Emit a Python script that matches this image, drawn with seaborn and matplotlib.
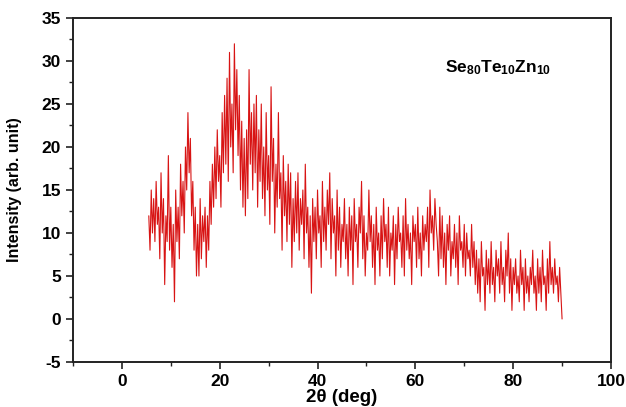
import numpy as np
import pandas as pd
import matplotlib
matplotlib.use("Agg")
import matplotlib.pyplot as plt
import seaborn as sns
from matplotlib.ticker import MultipleLocator

# Intensity readings, 2theta from 5.5 deg in 0.25 deg steps
intensity = [
    12, 8, 15, 10, 14, 9, 16, 11, 13, 7, 17, 10, 14, 4, 12, 9, 19, 8, 13, 6,
    11, 2, 15, 9, 13, 7, 18, 12, 16, 10, 20, 15, 24, 17, 21, 12, 16, 8, 13, 5,
    11, 5, 14, 7, 12, 9, 13, 6, 12, 8, 16, 11, 18, 13, 20, 14, 22, 16, 19, 13,
    24, 17, 26, 18, 28, 16, 31, 20, 25, 17, 32, 22, 29, 19, 26, 15, 23, 13, 21, 12,
    22, 14, 29, 18, 24, 15, 25, 17, 26, 13, 22, 16, 25, 14, 20, 12, 24, 15, 19, 11,
    27, 16, 21, 10, 18, 13, 24, 14, 17, 8, 19, 12, 16, 9, 18, 11, 17, 6, 14, 9,
    16, 10, 17, 8, 14, 11, 15, 7, 18, 10, 13, 6, 12, 3, 14, 9, 13, 7, 15, 10,
    12, 6, 16, 9, 13, 8, 15, 11, 17, 7, 14, 10, 12, 5, 15, 8, 13, 6, 11, 9,
    14, 7, 11, 5, 13, 8, 12, 4, 14, 9, 11, 6, 13, 10, 16, 7, 12, 5, 10, 8,
    15, 9, 12, 6, 11, 4, 13, 8, 10, 5, 12, 7, 14, 9, 11, 6, 13, 5, 10, 8,
    12, 4, 11, 7, 13, 9, 10, 6, 12, 5, 14, 8, 11, 7, 10, 4, 12, 9, 11, 6,
    13, 7, 10, 5, 12, 8, 11, 9, 13, 6, 15, 10, 12, 8, 14, 11, 9, 5, 13, 7,
    12, 6, 10, 4, 11, 8, 12, 5, 9, 7, 11, 6, 10, 4, 12, 8, 9, 6, 11, 5,
    10, 7, 8, 5, 11, 6, 9, 4, 8, 3, 7, 2, 9, 5, 6, 1, 8, 4, 7, 3,
    9, 4, 6, 2, 8, 5, 7, 3, 9, 4, 6, 2, 8, 5, 10, 3, 7, 1, 6, 4,
    7, 3, 5, 2, 8, 4, 6, 1, 7, 3, 5, 2, 6, 4, 8, 3, 5, 1, 7, 3,
    6, 2, 8, 4, 5, 1, 7, 3, 9, 4, 6, 3, 7, 4, 5, 2, 6, 3, 0,
]
start_angle = 5.5
step = 0.25
two_theta = start_angle + step * np.arange(len(intensity))

x_ticks = [0, 20, 40, 60, 80, 100]
y_ticks = [-5, 0, 5, 10, 15, 20, 25, 30, 35]
sample_label = r"$\mathbf{Se_{80}Te_{10}Zn_{10}}$"

df = pd.DataFrame({"two_theta": two_theta, "intensity": intensity})

sns.set_style("ticks")
plt.rcParams["font.family"] = ["Liberation Sans", "DejaVu Sans"]
plt.rcParams["mathtext.fontset"] = "custom"
plt.rcParams["mathtext.bf"] = "Liberation Sans:bold"
plt.rcParams["mathtext.rm"] = "Liberation Sans"
plt.rcParams["axes.unicode_minus"] = False
plt.rcParams["text.color"] = "black"
plt.rcParams["axes.labelcolor"] = "black"
plt.rcParams["xtick.color"] = "#222222"
plt.rcParams["ytick.color"] = "#222222"
plt.rcParams["xtick.labelcolor"] = "black"
plt.rcParams["ytick.labelcolor"] = "black"

fig = plt.figure(figsize=(6.26, 4.07), dpi=100)
ax = fig.add_axes([0.1166, 0.1106, 0.8594, 0.8452])

sns.lineplot(data=df, x="two_theta", y="intensity", ax=ax, color="#d81414",
             linewidth=0.8, estimator=None, sort=False)

ax.set_xlim(-10, 100)
ax.set_ylim(-5, 35)
ax.set_xticks(x_ticks)
ax.set_yticks(y_ticks)
ax.xaxis.set_minor_locator(MultipleLocator(10))
ax.yaxis.set_minor_locator(MultipleLocator(2.5))
ax.tick_params(which="major", direction="out", length=5, width=1.2, labelsize=12.5)
ax.tick_params(which="minor", direction="out", length=3, width=1)
for lab in ax.get_xticklabels() + ax.get_yticklabels():
    lab.set_fontweight("bold")
for sp in ax.spines.values():
    sp.set_linewidth(1.4)
    sp.set_color("#222222")

ax.set_xlabel("2θ (deg)", fontsize=13.5, fontweight="bold", labelpad=0)
ax.set_ylabel("Intensity (arb. unit)", fontsize=11.5, fontweight="bold", labelpad=14)

ax.text(66, 29.2, sample_label, fontsize=12.5, ha="left", va="center")

fig.savefig("out.png", dpi=100)
